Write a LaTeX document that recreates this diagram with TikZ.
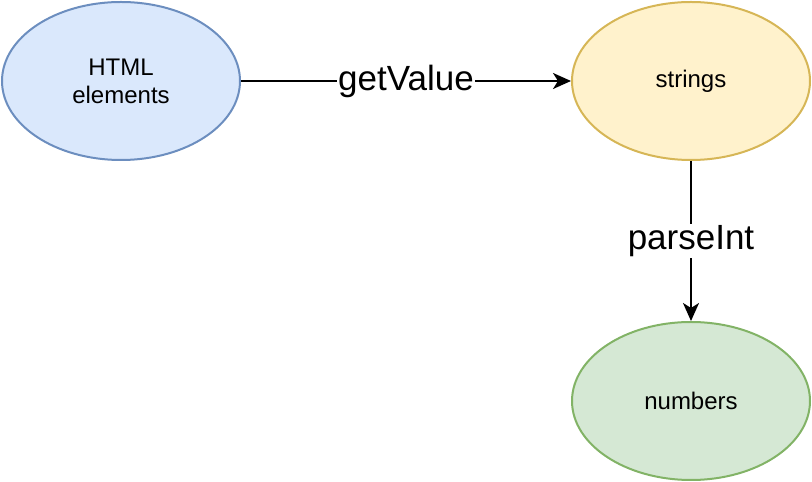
\documentclass[tikz,border=0pt]{standalone}
\usepackage{fontspec}
\setmainfont{Liberation Sans}
\usetikzlibrary{positioning,shapes.geometric,arrows.meta}
\definecolor{bluefill}{HTML}{DAE8FC}
\definecolor{bluedraw}{HTML}{6C8EBF}
\definecolor{yellowfill}{HTML}{FFF2CC}
\definecolor{yellowdraw}{HTML}{D6B656}
\definecolor{greenfill}{HTML}{D5E8D4}
\definecolor{greendraw}{HTML}{82B366}
\tikzset{
  blob/.style={ellipse,minimum width=238pt,minimum height=158pt,inner sep=0pt,
    line width=2pt,align=center,font=\fontsize{24}{28}\selectfont},
  conn/.style={line width=2.2pt,-{Stealth[length=18pt,width=16pt,inset=5pt]}},
  lbl/.style={fill=white,inner sep=1pt,font=\fontsize{35}{40}\selectfont}
}
\begin{document}
\begin{tikzpicture}[x=1pt,y=1pt]
  \useasboundingbox (0,0) rectangle (812,482);

  \node[blob,fill=bluefill,draw=bluedraw] (html) at (121,401) {HTML\\elements};
  \node[blob,fill=yellowfill,draw=yellowdraw] (strings) at (691,401) {strings};
  \node[blob,fill=greenfill,draw=greendraw,below=160pt of strings] (numbers) {numbers};

  \draw[conn] (html) -- node[lbl] {getValue} (strings);% top row
  \draw[conn] (strings) -- node[lbl] {parseInt} (numbers);% down
\end{tikzpicture}
\end{document}
